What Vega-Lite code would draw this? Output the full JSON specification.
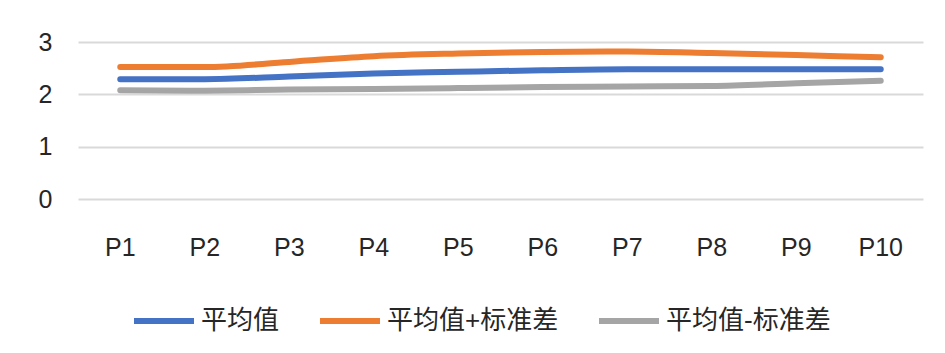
{
  "$schema": "https://vega.github.io/schema/vega-lite/v6.json",
  "autosize": "none",
  "width": 845,
  "height": 157,
  "padding": {"left": 78, "top": 42, "right": 22, "bottom": 154},
  "background": "white",
  "config": {
    "view": {"stroke": null},
    "font": "Liberation Sans, Noto Sans CJK SC"
  },
  "data": {
    "values": [
      {"P": "P1", "s": "平均值", "v": 2.29},
      {"P": "P2", "s": "平均值", "v": 2.29},
      {"P": "P3", "s": "平均值", "v": 2.34},
      {"P": "P4", "s": "平均值", "v": 2.40},
      {"P": "P5", "s": "平均值", "v": 2.43},
      {"P": "P6", "s": "平均值", "v": 2.46},
      {"P": "P7", "s": "平均值", "v": 2.48},
      {"P": "P8", "s": "平均值", "v": 2.48},
      {"P": "P9", "s": "平均值", "v": 2.48},
      {"P": "P10", "s": "平均值", "v": 2.48},
      {"P": "P1", "s": "平均值+标准差", "v": 2.52},
      {"P": "P2", "s": "平均值+标准差", "v": 2.52},
      {"P": "P3", "s": "平均值+标准差", "v": 2.62},
      {"P": "P4", "s": "平均值+标准差", "v": 2.73},
      {"P": "P5", "s": "平均值+标准差", "v": 2.78},
      {"P": "P6", "s": "平均值+标准差", "v": 2.81},
      {"P": "P7", "s": "平均值+标准差", "v": 2.82},
      {"P": "P8", "s": "平均值+标准差", "v": 2.79},
      {"P": "P9", "s": "平均值+标准差", "v": 2.75},
      {"P": "P10", "s": "平均值+标准差", "v": 2.71},
      {"P": "P1", "s": "平均值-标准差", "v": 2.08},
      {"P": "P2", "s": "平均值-标准差", "v": 2.07},
      {"P": "P3", "s": "平均值-标准差", "v": 2.09},
      {"P": "P4", "s": "平均值-标准差", "v": 2.10},
      {"P": "P5", "s": "平均值-标准差", "v": 2.12},
      {"P": "P6", "s": "平均值-标准差", "v": 2.14},
      {"P": "P7", "s": "平均值-标准差", "v": 2.15},
      {"P": "P8", "s": "平均值-标准差", "v": 2.16},
      {"P": "P9", "s": "平均值-标准差", "v": 2.21},
      {"P": "P10", "s": "平均值-标准差", "v": 2.26}
    ]
  },
  "mark": {"type": "line", "strokeWidth": 6, "strokeCap": "round", "strokeJoin": "round", "interpolate": "monotone"},
  "encoding": {
    "x": {
      "field": "P", "type": "nominal", "sort": null,
      "scale": {"type": "band", "paddingInner": 0, "paddingOuter": 0},
      "axis": {"title": null, "labelAngle": 0, "domain": false, "ticks": false, "tickSize": 0, "grid": false,
               "labelFontSize": 25, "labelColor": "#262626", "labelPadding": 36, "labelFont": "Liberation Sans"}
    },
    "y": {
      "field": "v", "type": "quantitative",
      "scale": {"domain": [0, 3], "nice": false, "zero": true},
      "axis": {"title": null, "values": [0, 1, 2, 3], "domain": false, "ticks": false, "tickSize": 0,
               "grid": true, "gridColor": "#d9d9d9", "gridWidth": 2,
               "labelFontSize": 25, "labelColor": "#262626", "labelPadding": 26, "labelFont": "Liberation Sans"}
    },
    "color": {
      "field": "s", "type": "nominal",
      "scale": {"domain": ["平均值", "平均值+标准差", "平均值-标准差"], "range": ["#4472C4", "#ED7D31", "#A5A5A5"]},
      "legend": {
        "title": null, "orient": "none", "direction": "horizontal", "legendX": 53, "legendY": 246,
        "symbolType": "stroke", "symbolSize": 3600, "symbolStrokeWidth": 6,
        "labelFontSize": 26, "labelColor": "#262626", "labelOffset": 4, "columnPadding": 28,
        "labelFont": "Liberation Sans, Noto Sans CJK SC", "labelLimit": 400
      }
    }
  }
}
